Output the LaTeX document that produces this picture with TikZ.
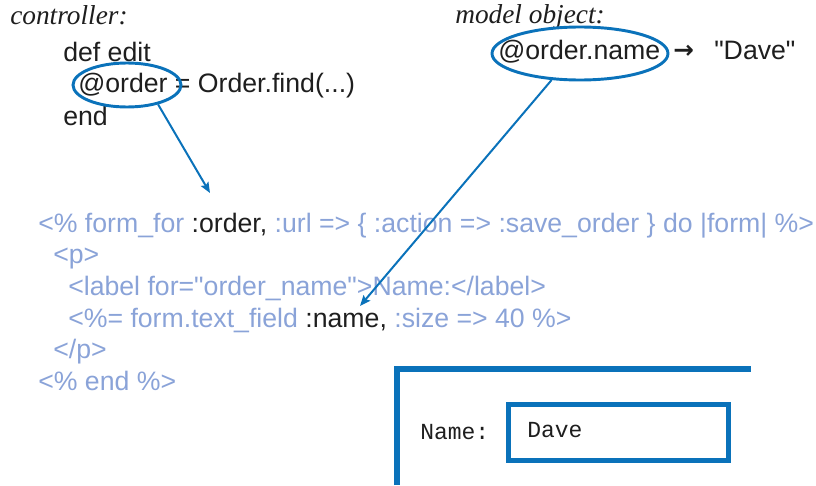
\documentclass[tikz,border=0pt]{standalone}
\usepackage{fontspec}
\newfontfamily\codesans{Liberation Sans}
\newfontfamily\serifit{Liberation Serif}
\newfontfamily\arrowfont{DejaVu Sans}
\setmonofont{Liberation Mono}
\usetikzlibrary{arrows.meta,shapes.geometric}
\definecolor{lineblue}{RGB}{10,114,186}
\definecolor{codeblue}{RGB}{138,163,216}
\definecolor{ink}{RGB}{30,30,30}
\newcommand{\hl}[1]{\textcolor{ink}{#1}}
\begin{document}
\begin{tikzpicture}[x=0.75pt,y=-0.75pt,
  txt/.style={anchor=base west,inner sep=0pt,text=ink,font=\fontsize{20}{22}\codesans},
  code/.style={txt,text=codeblue},
  lbl/.style={anchor=base west,inner sep=0pt,text=ink,font=\fontsize{20.5}{22}\serifit\itshape},
  mono/.style={anchor=base west,inner sep=0pt,text=ink,font=\fontsize{17.25}{20}\ttfamily},
  ring/.style={draw=lineblue,line width=2.2pt,ellipse,inner sep=0pt},
  arr/.style={draw=lineblue,line width=1.5pt,-{Stealth[length=8pt,width=6.5pt,inset=1.5pt]}},
  frame/.style={draw=lineblue,line width=4.5pt}]
\useasboundingbox (0,0) rectangle (816,485);

% controller
\node[lbl] (ctl) at (10,25) {controller:};
\node[txt] (def) at (63,61) {def edit};
\node[txt] (asg) at (78,93) {@order = Order.find(...)};
\node[txt] (endd) at (63,125) {end};
\node[ring,minimum width=81pt,minimum height=33pt] (e1) at (127,85) {};

% model object
\node[lbl] (mdl) at (455,24) {model object:};
\node[txt] (oname) at (498,60) {@order.name};
\node[txt,font=\fontsize{18.5}{20}\arrowfont\bfseries] (to) at (673,59) {→};
\node[txt] (dave) at (714,60) {"Dave"};
\node[ring,minimum width=132pt,minimum height=39.75pt] (e2) at (580,53.5) {};

% code
\node[code] (l1) at (38,232) {<\% form\_for \hl{:order,} :url => \{ :action => :save\_order \} do |form| \%>};
\node[code] (l2) at (53,263) {<p>};
\node[code] (l3) at (68,295) {<label for="order\_name">Name:</label>};
\node[code] (l4) at (68,327) {<\%= form.text\_field \hl{:name,} :size => 40 \%>};
\node[code] (l5) at (53,358) {</p>};
\node[code] (l6) at (38,390) {<\% end \%>};

% arrows
\coordinate (c1) at (210,193);
\coordinate (c2) at (360,306);
\draw[arr] (e1.-32) -- (c1);
\draw[arr] (e2.-137) -- (c2);

% rendered form
\draw[frame] (397,485) -- (397,369) -- (751,369);
\node[mono] (nm) at (420,439) {Name:};
\node[draw=lineblue,line width=3.75pt,minimum width=165pt,minimum height=42pt,inner sep=0pt] (field) at (618.5,432.5) {};
\node[mono] (val) at (527,437) {Dave};
\end{tikzpicture}
\end{document}
